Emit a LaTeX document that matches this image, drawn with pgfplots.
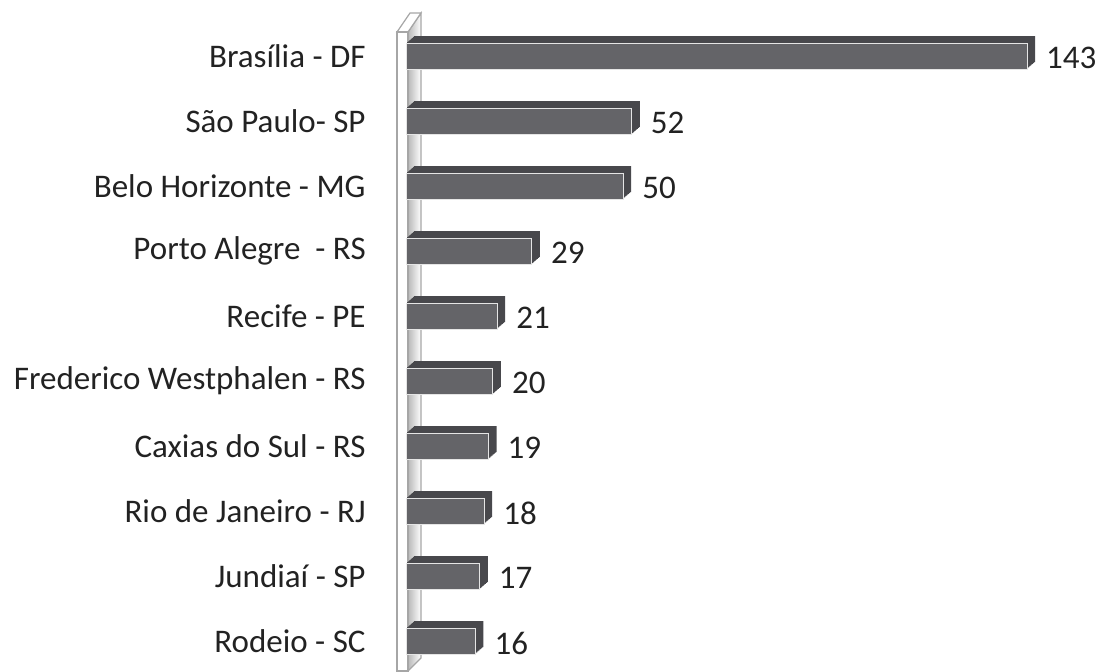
\documentclass[border=0pt]{standalone}
\usepackage{fontspec}
\setmainfont{Carlito}
\usepackage{pgfplots}
\usepackage{pgfplotstable}
\pgfplotsset{compat=1.18}
\definecolor{barfront}{RGB}{100,100,104}
\definecolor{bardepth}{RGB}{72,72,76}
\definecolor{txt}{RGB}{34,34,34}
\pgfplotstableread{
y val
0 143
1 52
2 50
3 29
4 21
5 20
6 19
7 18
8 17
9 16
}\datatab
\begin{document}
\begin{tikzpicture}
% wall (decoration), pixel coordinates
\begin{scope}[x=0.5pt,y=-0.5pt]
\shade[left color=gray!55, right color=white, draw=gray!70, line width=0.6pt]
  (408,32) -- (421,13) -- (421,658) -- (408,671) -- cycle;
\filldraw[fill=white, draw=gray!70, line width=0.6pt]
  (397,32) -- (408,32) -- (421,13) -- (410,13) -- cycle;
\filldraw[fill=white, draw=gray!70, line width=0.6pt]
  (397,32) rectangle (408,671);
\end{scope}
\begin{axis}[
  at={(203pt,-336.75pt)}, anchor=south west,
  scale only axis, width=310.5pt, height=325pt,
  xmin=0, xmax=143, ymin=-0.5, ymax=9.5,
  y dir=reverse,
  clip=false,
  axis line style={draw=none},
  major tick length=0pt,
  xtick=\empty,
  ytick={0,...,9},
  yticklabels={Brasília - DF, São Paulo- SP, Belo Horizonte - MG, Porto Alegre\ \ - RS, Recife - PE, Frederico Westphalen - RS, Caxias do Sul - RS, Rio de Janeiro - RJ, Jundiaí - SP, Rodeio - SC},
  yticklabel style={font=\fontsize{16.5}{19}\selectfont, text=txt, anchor=east, inner sep=0pt, xshift=-20pt},
  xbar, bar width=13pt, bar shift=0pt,
  /pgf/number format/assume math mode=true,
]
\pgfplotsinvokeforeach{8,7,6,5,4,3,2,1}{
  \addplot[fill=bardepth, draw=none, bar shift=0pt, xshift=#1*0.5pt, yshift=#1*0.4375pt] table[x=val,y=y]{\datatab};
}
\addplot[fill=barfront, draw=white!80!gray, line width=0.5pt, bar shift=0pt,
  nodes near coords,
  nodes near coords style={font=\fontsize{16.5}{19}\selectfont, text=txt, anchor=west, xshift=6pt, yshift=-1pt}]
  table[x=val,y=y]{\datatab};
\end{axis}
\pgfresetboundingbox
\path[use as bounding box] (0,0) rectangle (550.5pt,-335.5pt);
\end{tikzpicture}
\end{document}
